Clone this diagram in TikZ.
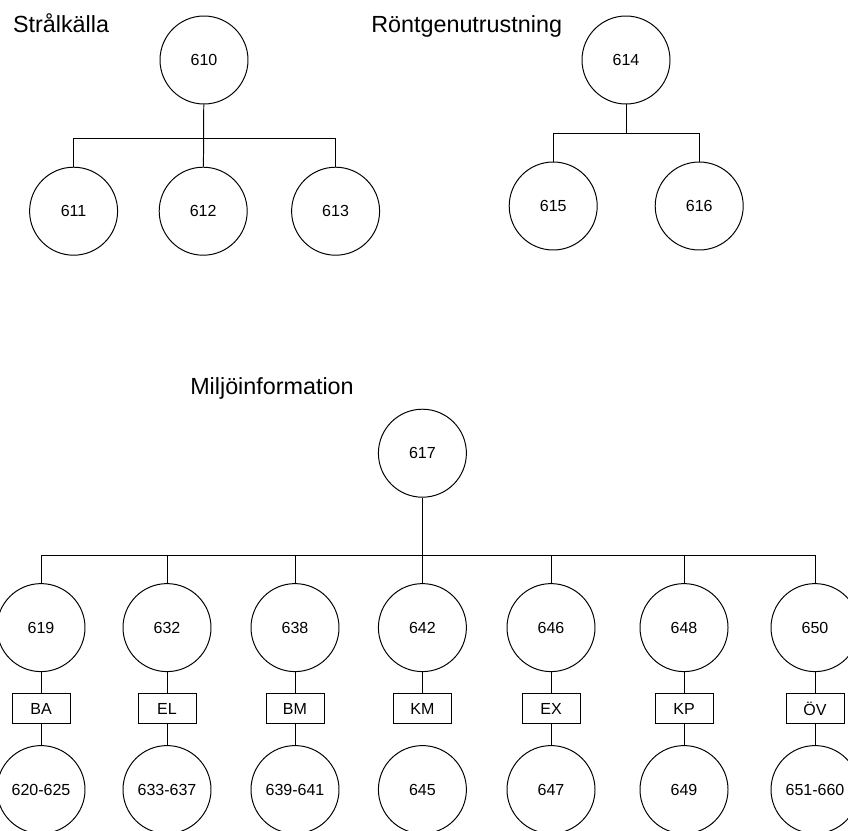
\documentclass[tikz,border=0pt]{standalone}
\usepackage{fontspec}
\setmainfont{Liberation Sans}
\usepackage{tikz}
\usetikzlibrary{positioning}
\usetikzlibrary{calc}

\tikzset{
  numcircle/.style={circle,draw=black,line width=0.7pt,minimum size=2.2cm,inner sep=0pt,font=\fontsize{11.4}{13}\selectfont},
  codebox/.style={rectangle,draw=black,line width=0.7pt,minimum width=1.45cm,minimum height=0.75cm,inner sep=0pt,font=\fontsize{11.4}{13}\selectfont},
  grouplabel/.style={anchor=base west,inner sep=0pt,font=\fontsize{16.6}{20}\selectfont},
  treeline/.style={draw=black,line width=0.7pt}
}

\begin{document}
\begin{tikzpicture}

\useasboundingbox (0,0) rectangle (21.2,-20.75);

%LABELs
\node[grouplabel](SK-label)at(0.32,-0.8){Strålkälla};
\node[grouplabel](RU-label)at(9.275,-0.8){Röntgenutrustning};
\node[grouplabel](MI-label)at(4.75,-9.85){Miljöinformation};

%LEFT
\node[numcircle](n610)at(5.10,-1.50){610};
\node[numcircle](n611)at(1.84,-5.28){611};
\node[numcircle](n612)at(5.08,-5.28){612};
\node[numcircle](n613)at(8.39,-5.28){613};

\coordinate (barSK-l) at (1.84,-3.45);
\coordinate (barSK-r) at (8.39,-3.45);
\draw[treeline] (barSK-l) -- (barSK-r);
\draw[treeline] (n610) -- (n612);
\draw[treeline] (barSK-l) -- (n611);
\draw[treeline] (barSK-r) -- (n613);

%RIGHT
\node[numcircle](n614)at(15.65,-1.50){614};
\node[numcircle](n615)at(13.83,-5.15){615};
\node[numcircle](n616)at(17.48,-5.15){616};

\coordinate (barRU-l) at (13.83,-3.325);
\coordinate (barRU-m) at (15.65,-3.325);
\coordinate (barRU-r) at (17.48,-3.325);
\draw[treeline] (barRU-l) -- (barRU-r);
\draw[treeline] (n614) -- (barRU-m);
\draw[treeline] (barRU-l) -- (n615);
\draw[treeline] (barRU-r) -- (n616);

%BOTTOM
\node[numcircle](n617)at(10.56,-11.33){617};

\node[numcircle](n619)at( 1.025,-15.69){619};
\node[numcircle](n632)at( 4.175,-15.69){632};
\node[numcircle](n638)at( 7.375,-15.69){638};
\node[numcircle](n642)at(10.56 ,-15.69){642};
\node[numcircle](n646)at(13.775,-15.69){646};
\node[numcircle](n648)at(17.10 ,-15.69){648};
\node[numcircle](n650)at(20.375,-15.69){650};

\node[codebox,below=0.525cm of n619](BA){BA};
\node[codebox,below=0.525cm of n632](EL){EL};
\node[codebox,below=0.525cm of n638](BM){BM};
\node[codebox,below=0.525cm of n642](KM){KM};
\node[codebox,below=0.525cm of n646](EX){EX};
\node[codebox,below=0.525cm of n648](KP){KP};
\node[codebox,below=0.525cm of n650](OV){ÖV};

\node[numcircle,below=0.525cm of BA](n620){620-625};
\node[numcircle,below=0.525cm of EL](n633){633-637};
\node[numcircle,below=0.525cm of BM](n639){639-641};
\node[numcircle,below=0.525cm of KM](n645){645};
\node[numcircle,below=0.525cm of EX](n647){647};
\node[numcircle,below=0.525cm of KP](n649){649};
\node[numcircle,below=0.525cm of OV](n651){651-660};

\coordinate (barMI-l) at (1.025,-13.875);
\coordinate (barMI-r) at (20.375,-13.875);
\draw[treeline] (barMI-l) -- (barMI-r);
\draw[treeline] (n617) -- (n642);
\draw[treeline] (barMI-l) -- (n619);
\draw[treeline] (n632 |- barMI-l) -- (n632);
\draw[treeline] (n638 |- barMI-l) -- (n638);
\draw[treeline] (n646 |- barMI-l) -- (n646);
\draw[treeline] (n648 |- barMI-l) -- (n648);
\draw[treeline] (barMI-r) -- (n650);

%Codes
\draw[treeline] (n619) -- (BA) -- (n620);
\draw[treeline] (n632) -- (EL) -- (n633);
\draw[treeline] (n638) -- (BM) -- (n639);
\draw[treeline] (n642) -- (KM);
\draw[treeline] (n646) -- (EX) -- (n647);
\draw[treeline] (n648) -- (KP) -- (n649);
\draw[treeline] (n650) -- (OV) -- (n651);

\end{tikzpicture}
\end{document}
